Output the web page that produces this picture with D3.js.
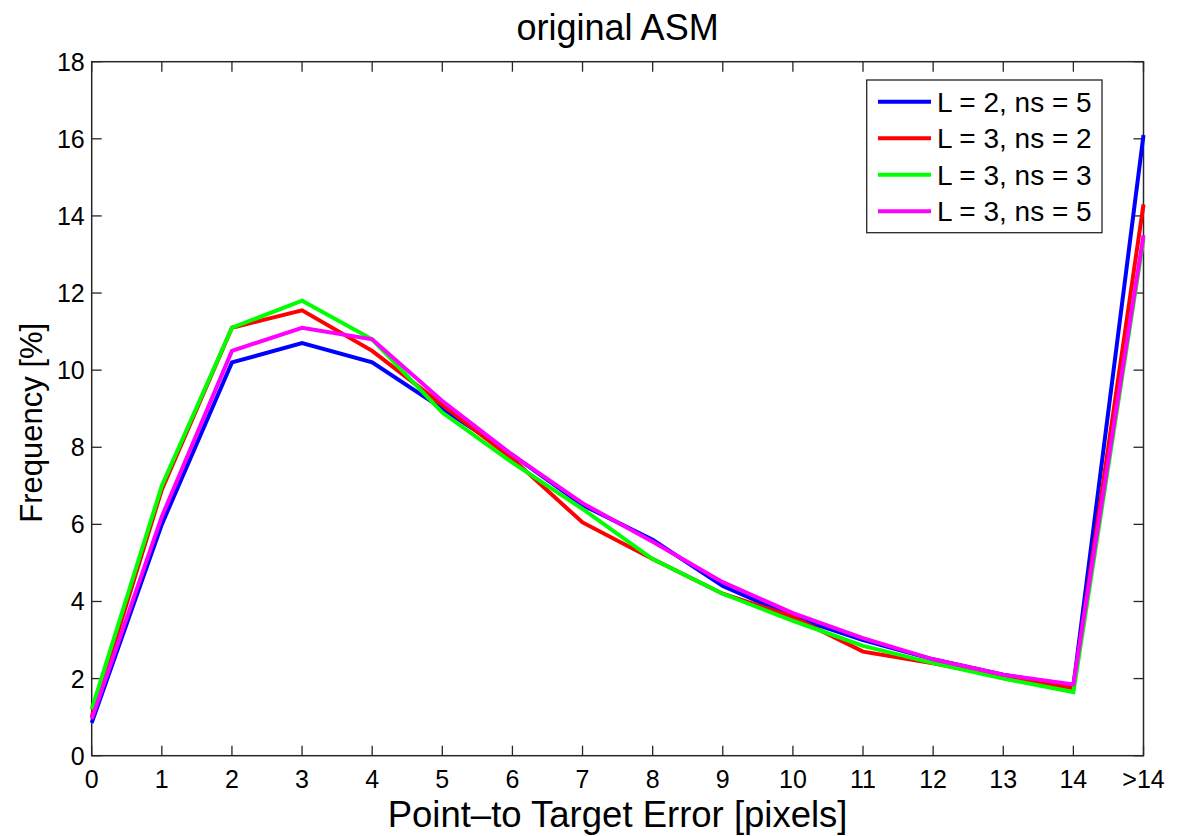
<!DOCTYPE html>
<html><head><meta charset="utf-8">
<script src="https://cdn.jsdelivr.net/npm/d3@7"></script>
<style>body{margin:0;background:#fff}svg{display:block}text{font-family:"Liberation Sans",Arial,sans-serif}</style>
</head><body><svg id="c" width="1179" height="836"></svg>
<script>
const categories = ["0","1","2","3","4","5","6","7","8","9","10","11","12","13","14",">14"];
const seriesNames = ["L = 2, ns = 5","L = 3, ns = 2","L = 3, ns = 3","L = 3, ns = 5"];
const seriesColors = ["#0000ff","#ff0000","#00ff00","#ff00ff"];
const blueL2ns5 =    [0.85,6.0,10.2,10.7,10.2,9.0,7.8,6.5,5.6,4.4,3.6,3.0,2.5,2.1,1.8,16.1];
const redL3ns2 =     [1.0,6.9,11.1,11.55,10.5,9.1,7.7,6.05,5.1,4.2,3.6,2.7,2.4,2.05,1.75,14.3];
const greenL3ns3 =   [1.2,7.0,11.1,11.8,10.8,8.9,7.6,6.4,5.1,4.2,3.5,2.85,2.4,2.0,1.65,13.4];
const magentaL3ns5 = [0.95,6.2,10.5,11.1,10.8,9.2,7.8,6.55,5.55,4.5,3.7,3.05,2.5,2.1,1.85,13.5];
const yTicks = [0,2,4,6,8,10,12,14,16,18];
const series = [blueL2ns5, redL3ns2, greenL3ns3, magentaL3ns5];

const svg = d3.select("#c");
const L = 91.7, R = 1143.5, T = 61.7, B = 755.7;
const x = d3.scaleLinear().domain([0, categories.length-1]).range([L, R]);
const y = d3.scaleLinear().domain([0, 18]).range([B, T]);
const idx = d3.range(categories.length);

const tl = 10;
const g = svg.append("g");
idx.forEach(i=>{
  g.append("line").attr("x1",x(i)).attr("x2",x(i)).attr("y1",B).attr("y2",B-tl).attr("stroke","#262626").attr("stroke-width",1.3);
  g.append("line").attr("x1",x(i)).attr("x2",x(i)).attr("y1",T).attr("y2",T+tl).attr("stroke","#262626").attr("stroke-width",1.3);
  g.append("text").attr("x",x(i)).attr("y",B+32).attr("text-anchor","middle").attr("font-size",25).text(categories[i]);
});
yTicks.forEach(v=>{
  g.append("line").attr("x1",L).attr("x2",L+tl).attr("y1",y(v)).attr("y2",y(v)).attr("stroke","#262626").attr("stroke-width",1.3);
  g.append("line").attr("x1",R).attr("x2",R-tl).attr("y1",y(v)).attr("y2",y(v)).attr("stroke","#262626").attr("stroke-width",1.3);
  g.append("text").attr("x",L-7).attr("y",y(v)+9).attr("text-anchor","end").attr("font-size",25).text(v);
});
svg.append("rect").attr("x",L).attr("y",T).attr("width",R-L).attr("height",B-T).attr("fill","none").attr("stroke","#262626").attr("stroke-width",1.5);

const line = d3.line().x((d,i)=>x(i)).y(d=>y(d));
series.forEach((s,k)=>{
  svg.append("path").datum(s).attr("d",line).attr("fill","none").attr("stroke",seriesColors[k]).attr("stroke-width",4).attr("stroke-linejoin","miter");
});

svg.append("text").attr("x",(L+R)/2).attr("y",40).attr("text-anchor","middle").attr("font-size",36).text("original ASM");
svg.append("text").attr("x",(L+R)/2).attr("y",827).attr("text-anchor","middle").attr("font-size",36.5).text("Point\u2013to Target Error [pixels]");
svg.append("text").attr("transform",`translate(42,${(T+B)/2+14}) rotate(-90)`).attr("text-anchor","middle").attr("font-size",31).text("Frequency [%]");

const lg = svg.append("g");
lg.append("rect").attr("x",866.7).attr("y",80).attr("width",235.3).attr("height",152.7).attr("fill","#fff").attr("stroke","#262626").attr("stroke-width",1.3);
seriesNames.forEach((n,k)=>{
  const yy = 101.7 + k*36.5;
  lg.append("line").attr("x1",878).attr("x2",931).attr("y1",yy).attr("y2",yy).attr("stroke",seriesColors[k]).attr("stroke-width",4);
  lg.append("text").attr("x",937).attr("y",yy+10).attr("font-size",28).text(n);
});
</script></body></html>
